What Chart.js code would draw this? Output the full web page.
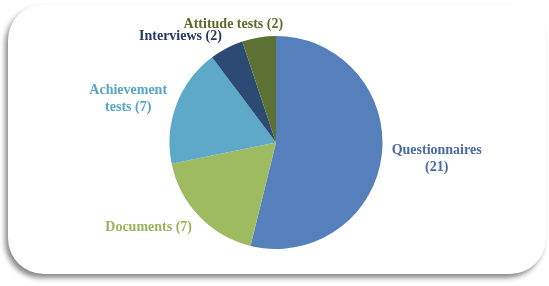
<!DOCTYPE html>
<html>
<head>
<meta charset="utf-8">
<title>Data collection instruments</title>
<script src="https://cdn.jsdelivr.net/npm/chart.js"></script>
<style>
    body {
        margin: 0;
        background: #fff;
        width: 549px;
        height: 286px;
        overflow: hidden;
        position: relative;
    }
    .card {
        position: absolute;
        left: 8px;
        top: 4px;
        width: 538px;
        height: 270px;
        background: #fff;
        border-radius: 36px;
        box-shadow: -3px 4px 5px rgba(0, 0, 0, 0.45);
    }
    #pieChart {
        position: absolute;
        left: 0;
        top: 0;
    }
</style>
</head>
<body>
<div class="card"></div>
<canvas id="pieChart" width="549" height="286"></canvas>

<script>
const categories = ['Questionnaires', 'Documents', 'Achievement tests', 'Interviews', 'Attitude tests'];
const counts = [21, 7, 7, 2, 2];
const sliceColors = ['#5580bb', '#9ebb61', '#5ea9c8', '#2d4a75', '#5c7133'];
const labelColors = ['#4a6aa6', '#9bb25a', '#57a6c6', '#24395f', '#5c6a2a'];

const labelFont = 'bold 14px "Liberation Serif", "Times New Roman", serif';
const lineHeight = 17;
const maxLabelWidth = 104;

// split "name (n)" into lines no wider than maxLabelWidth
function wrapLabel(ctx, text) {
    const words = text.split(' ');
    const lines = [];
    let line = '';
    words.forEach(w => {
        const test = line ? line + ' ' + w : w;
        if (line && ctx.measureText(test).width > maxLabelWidth) {
            lines.push(line);
            line = w;
        } else {
            line = test;
        }
    });
    lines.push(line);
    return lines;
}

const outsideLabels = {
    id: 'outsideLabels',
    afterDraw(chart) {
        const ctx = chart.ctx;
        const meta = chart.getDatasetMeta(0);
        ctx.save();
        ctx.font = labelFont;
        ctx.textAlign = 'center';
        ctx.textBaseline = 'middle';
        meta.data.forEach((arc, i) => {
            const p = arc.getProps(['x', 'y', 'startAngle', 'endAngle', 'outerRadius'], true);
            const mid = (p.startAngle + p.endAngle) / 2;
            const dist = p.outerRadius + 10;
            const ax = p.x + Math.cos(mid) * dist;
            const ay = p.y + Math.sin(mid) * dist;
            const lines = wrapLabel(ctx, categories[i] + ' (' + counts[i] + ')');
            const w = Math.max(...lines.map(l => ctx.measureText(l).width));
            const h = lines.length * lineHeight;
            const k = Math.max(-1, Math.min(1, Math.cos(mid) * 3));
            const cx = ax + k * w / 2;
            const cy = ay + Math.sin(mid) * h / 4 + 1;
            ctx.fillStyle = labelColors[i];
            lines.forEach((l, j) => {
                ctx.fillText(l, cx, cy + (j - (lines.length - 1) / 2) * lineHeight);
            });
        });
        ctx.restore();
    }
};

document.addEventListener('DOMContentLoaded', () => {
    const ctx = document.getElementById('pieChart').getContext('2d');
    new Chart(ctx, {
        type: 'pie',
        data: {
            labels: categories,
            datasets: [{
                data: counts,
                backgroundColor: sliceColors,
                borderWidth: 0
            }]
        },
        options: {
            responsive: false,
            devicePixelRatio: 1,
            animation: false,
            layout: { padding: { left: 3, right: 0, top: 36, bottom: 37 } },
            plugins: {
                legend: { display: false },
                tooltip: { enabled: false }
            }
        },
        plugins: [outsideLabels]
    });
});
</script>
</body>
</html>
